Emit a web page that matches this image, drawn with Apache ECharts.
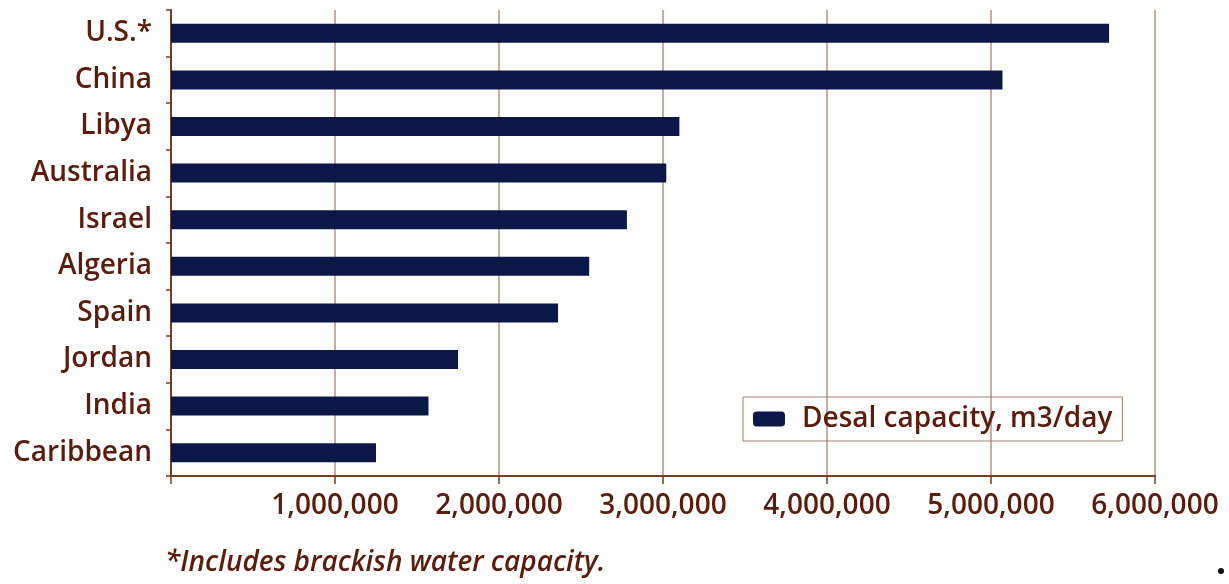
<!DOCTYPE html>
<html><head><meta charset="utf-8">
<script src="https://cdn.jsdelivr.net/npm/echarts@6/dist/echarts.min.js"></script>
<style>html,body{margin:0;padding:0;background:#fff}#c{width:1229px;height:584px}</style>
</head><body><div id="c"></div>
<script>
var categories = ["U.S.*","China","Libya","Australia","Israel","Algeria","Spain","Jordan","India","Caribbean"];
var capacity = [5720000,5070000,3100000,3020000,2780000,2550000,2360000,1750000,1570000,1250000];
var xTicks = [0,1000000,2000000,3000000,4000000,5000000,6000000];
var seriesName = "Desal capacity, m3/day";
var footnote = "*Includes brackish water capacity.";

var textColor = "#5a1c0c";
var font = "Open Sans";
var chart = echarts.init(document.getElementById('c'));
chart.setOption({
  animation:false,
  backgroundColor:'#fff',
  grid:{left:171,right:74,top:10,bottom:108},
  legend:{
    data:[seriesName], left:743, top:397,
    orient:'horizontal', borderColor:'#a08070', borderWidth:1, padding:[8,10,8,10],
    itemWidth:32, itemHeight:15, itemGap:10,
    textStyle:{color:textColor, fontFamily:font, fontSize:28, fontWeight:600, padding:[0,0,0,12]}
  },
  xAxis:{
    type:'value', min:xTicks[0], max:xTicks[xTicks.length-1], interval:1000000,
    axisLine:{show:true, lineStyle:{color:'#7a3a28', width:2}},
    axisTick:{show:true, length:8, lineStyle:{color:'#7a3a28', width:1.5}},
    splitLine:{show:true, lineStyle:{color:'#b89080', width:1.5}},
    axisLabel:{color:textColor, fontFamily:font, fontSize:28, fontWeight:600, margin:16,
      formatter:function(v){ return v===0 ? '' : v.toLocaleString('en-US'); }}
  },
  yAxis:{
    type:'category', data:categories, inverse:true,
    axisLine:{show:true, lineStyle:{color:'#7a3a28', width:2}},
    axisTick:{show:true, length:5, lineStyle:{color:'#7a3a28', width:1.5}},
    axisLabel:{color:textColor, fontFamily:font, fontSize:28, fontWeight:600, margin:19}
  },
  series:[{
    name:seriesName, type:'bar', data:capacity, barWidth:19,
    itemStyle:{color:'#0b1847'}
  }],
  graphic:[
    {type:'text', left:165, top:549, style:{text:footnote, fill:textColor, font:'italic 600 28px "Open Sans"'}},
    {type:'circle', shape:{cx:1221, cy:571, r:3}, style:{fill:'#111'}}
  ]
});
</script></body></html>
